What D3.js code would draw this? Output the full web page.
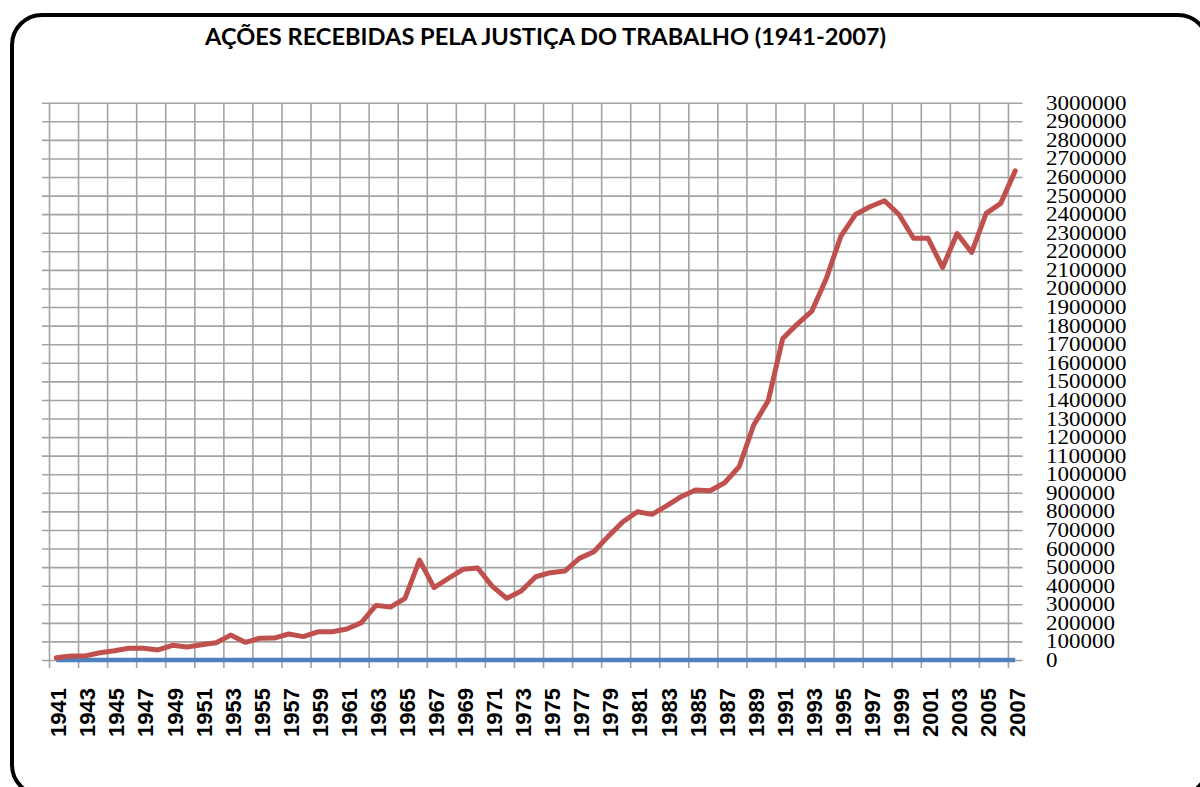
<!DOCTYPE html>
<html>
<head>
<meta charset="utf-8">
<script src="https://cdn.jsdelivr.net/npm/d3@7"></script>
<style>
  html, body { margin: 0; padding: 0; background: #fff; }
  svg { display: block; }
</style>
</head>
<body>
<svg id="chart" width="1200" height="787"></svg>
<script>
const title = "AÇÕES RECEBIDAS PELA JUSTIÇA DO TRABALHO (1941-2007)";
const years = d3.range(1941, 2008).map(String);
const acoes = [
  12000, 21000, 22000, 39000, 50000, 63000, 63000, 54000, 79000, 70000,
  82000, 93000, 134000, 95000, 117000, 118000, 140000, 126000, 152000, 152000,
  167000, 201000, 294000, 285000, 332000, 538000, 390000, 440000, 488000, 495000,
  398000, 332000, 371000, 448000, 470000, 479000, 547000, 583000, 667000, 744000,
  798000, 784000, 830000, 879000, 915000, 911000, 954000, 1040000, 1265000, 1396000,
  1731000, 1808000, 1878000, 2054000, 2282000, 2398000, 2440000, 2472000, 2398000, 2270000,
  2270000, 2113000, 2296000, 2194000, 2404000, 2458000, 2633000
];
const zeros = years.map(() => 0);
const yTicks = d3.range(0, 3000001, 100000);
const xLabelYears = years.filter((d, i) => i % 2 === 0);

const svg = d3.select("#chart");

// rounded frame
svg.append("rect")
  .attr("x", 12).attr("y", 15)
  .attr("width", 1196).attr("height", 780)
  .attr("rx", 30).attr("ry", 30)
  .attr("fill", "none").attr("stroke", "#000").attr("stroke-width", 4);

// title
svg.append("text")
  .attr("x", 205).attr("y", 45)
  .attr("textLength", 681).attr("lengthAdjust", "spacingAndGlyphs")
  .style("font-family", "Lato, 'Open Sans', sans-serif")
  .style("font-weight", "bold").style("font-size", "23px")
  .attr("fill", "#000")
  .text(title);

const pLeft = 49, pRight = 1022.5, pTop = 102.7, pBottom = 660;

const xi = d3.scaleLinear().domain([0, years.length]).range([pLeft, pRight]);
const xc = d3.scalePoint().domain(years).range([xi(0.5), xi(years.length - 0.5)]);
const y = d3.scaleLinear().domain([0, 3000000]).range([pBottom, pTop]);

const gridColor = "#a3a3a3";

// horizontal gridlines (extend left as tick marks)
const yAxisG = svg.append("g")
  .attr("transform", `translate(${pRight},0)`)
  .call(d3.axisLeft(y).tickValues(yTicks).tickSize(pRight - pLeft + 7).tickFormat(""));
yAxisG.select(".domain").remove();
yAxisG.selectAll("line").attr("stroke", gridColor).attr("stroke-width", 1.6);

// vertical gridlines every 2 categories
const vIdx = d3.range(0, years.length, 2);
const xAxisG = svg.append("g")
  .attr("transform", `translate(0,${pTop})`)
  .call(d3.axisBottom(xi).tickValues(vIdx).tickSize(pBottom - pTop + 8).tickFormat(""));
xAxisG.select(".domain").remove();
xAxisG.selectAll("line").attr("stroke", gridColor).attr("stroke-width", 1.6);

// y labels on right
svg.append("g").selectAll("text").data(yTicks).join("text")
  .attr("x", 1046).attr("y", d => y(d))
  .attr("dy", "0.35em")
  .attr("textLength", d => String(d).length * 11.5)
  .attr("lengthAdjust", "spacingAndGlyphs")
  .style("font-family", "'Liberation Serif', 'Times New Roman', serif")
  .style("font-size", "20px")
  .attr("fill", "#000")
  .text(d => d);

// x labels rotated
svg.append("g").selectAll("text").data(xLabelYears).join("text")
  .attr("transform", d => `translate(${xc(d) + 10},688) rotate(-90)`)
  .attr("text-anchor", "end")
  .style("font-family", "'Liberation Sans', Arial, sans-serif")
  .style("font-weight", "bold").style("font-size", "22px")
  .attr("fill", "#000")
  .text(d => d);

// series
const line = d3.line().x(d => xc(d[0])).y(d => y(d[1]));
svg.append("path")
  .datum(years.map((d, i) => [d, zeros[i]]))
  .attr("d", line)
  .attr("fill", "none").attr("stroke", "#4f81bd").attr("stroke-width", 4.5);
svg.append("path")
  .datum(years.map((d, i) => [d, acoes[i]]))
  .attr("d", line)
  .attr("fill", "none").attr("stroke", "#c0504d").attr("stroke-width", 5)
  .attr("stroke-linejoin", "round").attr("stroke-linecap", "round");
</script>
</body>
</html>
